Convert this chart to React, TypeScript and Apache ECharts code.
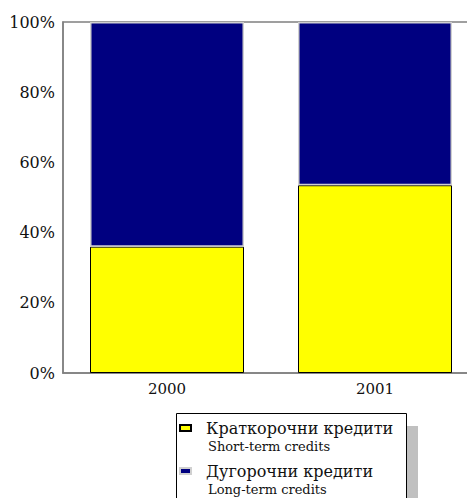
import React, { useEffect, useRef } from "react";
import * as echarts from "echarts";

const categories = ["2000", "2001"];
const seriesNamesMk = ["Краткорочни кредити", "Дугорочни кредити"];
const seriesNamesEn = ["Short-term credits", "Long-term credits"];
const shortTerm = [36, 53.5];
const longTerm = [64, 46.5];
const yTicks = [0, 20, 40, 60, 80, 100];

const FONT = "'DejaVu Serif', serif";

export default function App() {
  const ref = useRef<HTMLDivElement>(null);
  useEffect(() => {
    document.body.style.margin = "0";
    if (!ref.current) return;
    const chart = echarts.init(ref.current, undefined, { renderer: "svg" });
    const legendCommon = {
      orient: "vertical",
      left: 179,
      padding: 0,
      itemWidth: 11,
      itemHeight: 6,
      itemGap: 25,
      icon: "rect",
      data: seriesNamesMk,
    };
    chart.setOption({
      animation: false,
      grid: {
        left: 63,
        top: 22,
        width: 416,
        bottom: 125,
        outerBoundsMode: "none",
        containLabel: false,
        show: true,
        borderColor: "#808080",
        borderWidth: 1.5,
        backgroundColor: "transparent",
      },
      xAxis: {
        type: "category",
        data: categories,
        axisTick: { show: false },
        axisLine: { lineStyle: { color: "#808080", width: 1.5 } },
        axisLabel: { color: "#111", fontFamily: FONT, fontSize: 15, margin: 8 },
      },
      yAxis: {
        type: "value",
        min: yTicks[0],
        max: yTicks[yTicks.length - 1],
        interval: 20,
        axisLine: { show: true, lineStyle: { color: "#808080", width: 1.5 } },
        axisTick: { show: false },
        splitLine: { show: false },
        axisLabel: {
          color: "#111",
          fontFamily: FONT,
          fontSize: 16,
          margin: 8,
          formatter: "{value}%",
        },
      },
      legend: [
        {
          ...legendCommon,
          top: 419,
          textStyle: {
            fontFamily: FONT,
            fontSize: 16,
            lineHeight: 18,
            color: "#111",
            padding: [0, 0, 0, 10],
          },
        },
        {
          ...legendCommon,
          top: 437,
          itemStyle: { opacity: 0 },
          formatter: (name: string) => seriesNamesEn[seriesNamesMk.indexOf(name)],
          textStyle: {
            fontFamily: FONT,
            fontSize: 13,
            lineHeight: 18,
            color: "#111",
            padding: [0, 0, 0, 12],
          },
        },
      ],
      graphic: [
        {
          type: "rect",
          z: -1,
          shape: { x: 407, y: 426, width: 11, height: 100 },
          style: { fill: "#c0c0c0" },
        },
        {
          type: "rect",
          z: -1,
          shape: { x: 176.5, y: 413.5, width: 230, height: 100 },
          style: { fill: "#fff", stroke: "#000", lineWidth: 1 },
        },
      ],
      series: [
        {
          name: seriesNamesMk[0],
          type: "bar",
          stack: "total",
          data: shortTerm,
          barWidth: 154,
          itemStyle: { color: "#ffff00", borderColor: "#000", borderWidth: 1 },
        },
        {
          name: seriesNamesMk[1],
          type: "bar",
          stack: "total",
          data: longTerm,
          barWidth: 154,
          itemStyle: { color: "#000080", borderColor: "#d0d0d0", borderWidth: 1.5 },
        },
      ],
    });
    return () => chart.dispose();
  }, []);
  return <div ref={ref} style={{ width: 467, height: 498 }} />;
}
